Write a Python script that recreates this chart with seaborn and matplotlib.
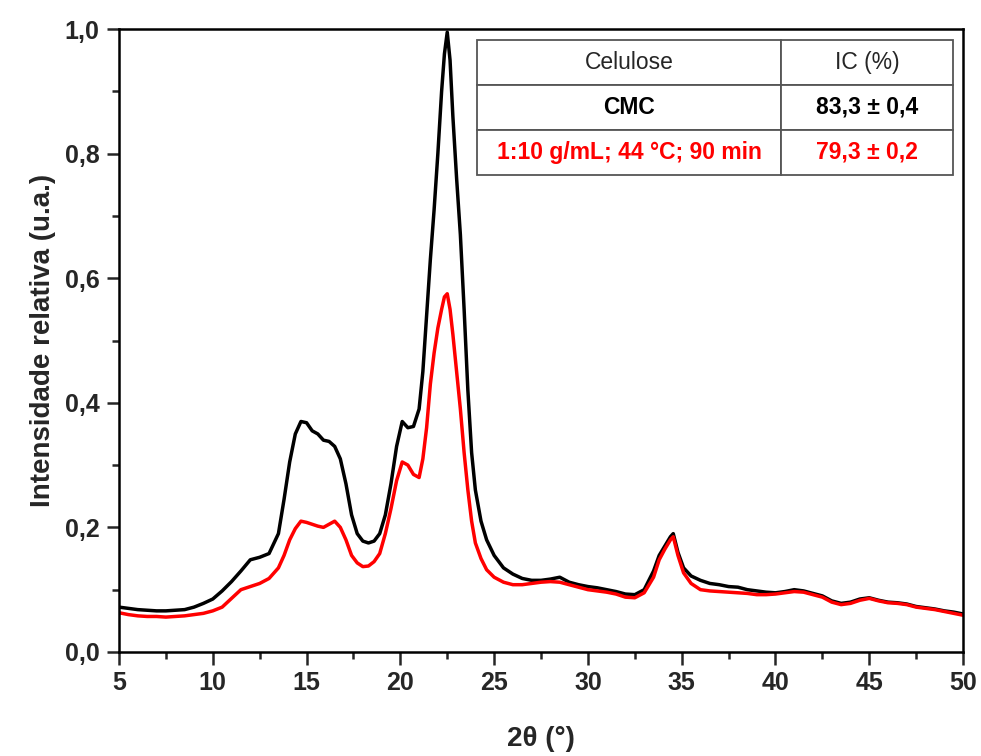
import numpy as np
import pandas as pd
import seaborn as sns
import matplotlib.pyplot as plt
from matplotlib.ticker import MultipleLocator, FuncFormatter

# 2theta positions (degrees)
two_theta = [5, 5.5, 6, 6.5, 7, 7.5, 8, 8.5, 9, 9.5, 10, 10.5, 11, 11.5, 12, 12.5, 13, 13.5,
             13.8, 14.1, 14.4, 14.7, 15, 15.3, 15.6, 15.9, 16.2, 16.5, 16.8, 17.1, 17.4, 17.7,
             18, 18.3, 18.6, 18.9, 19.2, 19.5, 19.8, 20.1, 20.4, 20.7, 21, 21.2, 21.4, 21.6,
             21.8, 22, 22.2, 22.35, 22.5, 22.65, 22.8, 23, 23.2, 23.4, 23.6, 23.8, 24, 24.3,
             24.6, 25, 25.5, 26, 26.5, 27, 27.5, 28, 28.5, 29, 29.5, 30, 30.5, 31, 31.5, 32,
             32.5, 33, 33.5, 33.8, 34.1, 34.4, 34.55, 34.8, 35.1, 35.5, 36, 36.5, 37, 37.5, 38,
             38.5, 39, 39.5, 40, 40.5, 41, 41.5, 42, 42.5, 43, 43.5, 44, 44.5, 45, 45.5, 46,
             46.5, 47, 47.5, 48, 48.5, 49, 49.5, 50]

# relative intensity, CMC (black)
cmc = [0.072, 0.070, 0.068, 0.067, 0.066, 0.066, 0.067, 0.068, 0.072, 0.078, 0.085, 0.098,
       0.113, 0.130, 0.148, 0.152, 0.158, 0.190, 0.245, 0.305, 0.350, 0.370, 0.368, 0.355,
       0.350, 0.340, 0.338, 0.330, 0.310, 0.270, 0.220, 0.190, 0.178, 0.175, 0.178, 0.190,
       0.220, 0.270, 0.330, 0.370, 0.360, 0.362, 0.390, 0.450, 0.540, 0.630, 0.710, 0.800,
       0.900, 0.960, 0.995, 0.950, 0.860, 0.760, 0.670, 0.550, 0.420, 0.320, 0.260, 0.210,
       0.180, 0.155, 0.135, 0.125, 0.118, 0.115, 0.115, 0.117, 0.120, 0.112, 0.108, 0.105,
       0.103, 0.100, 0.097, 0.093, 0.092, 0.100, 0.130, 0.155, 0.170, 0.185, 0.190, 0.160,
       0.135, 0.122, 0.115, 0.110, 0.108, 0.105, 0.104, 0.100, 0.098, 0.096, 0.095, 0.097,
       0.100, 0.098, 0.094, 0.090, 0.082, 0.078, 0.080, 0.085, 0.087, 0.083, 0.080, 0.079,
       0.077, 0.073, 0.071, 0.069, 0.066, 0.064, 0.061]

# relative intensity, 1:10 g/mL; 44 °C; 90 min (red)
treated = [0.063, 0.060, 0.058, 0.057, 0.057, 0.056, 0.057, 0.058, 0.060, 0.062, 0.066, 0.072,
           0.086, 0.100, 0.105, 0.110, 0.118, 0.135, 0.155, 0.180, 0.198, 0.210, 0.208, 0.205,
           0.202, 0.200, 0.205, 0.210, 0.200, 0.180, 0.155, 0.143, 0.137, 0.138, 0.145, 0.158,
           0.190, 0.230, 0.275, 0.305, 0.300, 0.285, 0.280, 0.310, 0.360, 0.430, 0.480, 0.520,
           0.550, 0.570, 0.575, 0.550, 0.510, 0.450, 0.390, 0.320, 0.260, 0.210, 0.175, 0.150,
           0.132, 0.120, 0.112, 0.108, 0.108, 0.110, 0.112, 0.113, 0.112, 0.108, 0.104, 0.100,
           0.098, 0.096, 0.093, 0.088, 0.087, 0.095, 0.120, 0.148, 0.165, 0.180, 0.185, 0.155,
           0.127, 0.110, 0.100, 0.098, 0.097, 0.096, 0.095, 0.094, 0.092, 0.092, 0.093, 0.095,
           0.097, 0.096, 0.092, 0.088, 0.080, 0.076, 0.078, 0.083, 0.086, 0.082, 0.079, 0.078,
           0.076, 0.072, 0.070, 0.068, 0.065, 0.062, 0.059]

table_header = ["Celulose", "IC (%)"]
table_rows = [["CMC", "83,3 ± 0,4"], ["1:10 g/mL; 44 °C; 90 min", "79,3 ± 0,2"]]
row_colors = ["black", "red"]

sns.set_style("ticks")
plt.rcParams['font.family'] = ['Liberation Sans', 'DejaVu Sans']

fig = plt.figure(figsize=(9.81, 7.56), dpi=100)
ax = fig.add_axes([0.1213, 0.1376, 0.8604, 0.824])

df = pd.DataFrame({"two_theta": two_theta, "CMC": cmc, "treated": treated})
sns.lineplot(data=df, x="two_theta", y="CMC", color="black", linewidth=2.5, ax=ax)
sns.lineplot(data=df, x="two_theta", y="treated", color="#ff0000", linewidth=2.5, ax=ax)

ax.set_xlim(5, 50)
ax.set_ylim(0, 1.0)
ax.xaxis.set_major_locator(MultipleLocator(5))
ax.xaxis.set_minor_locator(MultipleLocator(2.5))
ax.yaxis.set_major_locator(MultipleLocator(0.2))
ax.yaxis.set_minor_locator(MultipleLocator(0.1))
ax.yaxis.set_major_formatter(FuncFormatter(lambda v, p: f"{v:.1f}".replace(".", ",")))

ax.tick_params(which="major", direction="out", length=9, width=1.8, labelsize=18, pad=5)
ax.tick_params(which="minor", direction="out", length=5, width=1.8)
for lab in ax.get_xticklabels() + ax.get_yticklabels():
    lab.set_fontweight("bold")
for sp in ax.spines.values():
    sp.set_visible(True)
    sp.set_linewidth(1.8)
    sp.set_color("black")

ax.set_xlabel("2θ (°)", fontsize=20, fontweight="bold", labelpad=22)
ax.set_ylabel("Intensidade relativa (u.a.)", fontsize=20, fontweight="bold", labelpad=6)

# IC table in the upper right corner
tbl = ax.table(cellText=table_rows, colLabels=table_header, cellLoc="center",
               colWidths=[0.639, 0.361], bbox=[0.424, 0.766, 0.564, 0.217])
tbl.auto_set_font_size(False)
for (r, c), cell in tbl.get_celld().items():
    cell.set_edgecolor("#555555")
    cell.set_linewidth(1.3)
    cell.set_facecolor("white")
    txt = cell.get_text()
    txt.set_fontsize(16.5)
    if r >= 1:
        txt.set_fontweight("bold")
        txt.set_color(row_colors[r - 1])

fig.savefig("out.png", dpi=100)
